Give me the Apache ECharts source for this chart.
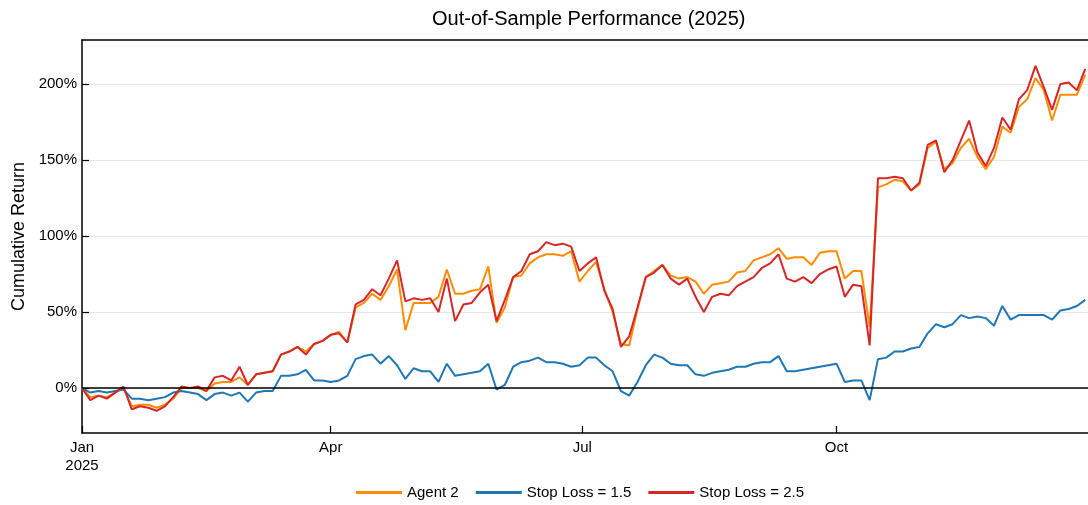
<!DOCTYPE html>
<html>
<head>
<meta charset="utf-8">
<title>Out-of-Sample Performance (2025)</title>
<script src="https://cdn.jsdelivr.net/npm/echarts@6/dist/echarts.min.js"></script>
<style>
    html, body { margin: 0; padding: 0; background: #fff; }
    #chart { width: 1088px; height: 505px; }
</style>
</head>
<body>
<div id="chart"></div>
<script>
    // sample dates (every 3 days)
    let dates = [
        '2025-01-01', '2025-01-04', '2025-01-07', '2025-01-10', '2025-01-13', '2025-01-16', '2025-01-19', '2025-01-22', '2025-01-25', '2025-01-28',
        '2025-01-31', '2025-02-03', '2025-02-06', '2025-02-09', '2025-02-12', '2025-02-15', '2025-02-18', '2025-02-21', '2025-02-24', '2025-02-27',
        '2025-03-02', '2025-03-05', '2025-03-08', '2025-03-11', '2025-03-14', '2025-03-17', '2025-03-20', '2025-03-23', '2025-03-26', '2025-03-29',
        '2025-04-01', '2025-04-04', '2025-04-07', '2025-04-10', '2025-04-13', '2025-04-16', '2025-04-19', '2025-04-22', '2025-04-25', '2025-04-28',
        '2025-05-01', '2025-05-04', '2025-05-07', '2025-05-10', '2025-05-13', '2025-05-16', '2025-05-19', '2025-05-22', '2025-05-25', '2025-05-28',
        '2025-05-31', '2025-06-03', '2025-06-06', '2025-06-09', '2025-06-12', '2025-06-15', '2025-06-18', '2025-06-21', '2025-06-24', '2025-06-27',
        '2025-06-30', '2025-07-03', '2025-07-06', '2025-07-09', '2025-07-12', '2025-07-15', '2025-07-18', '2025-07-21', '2025-07-24', '2025-07-27',
        '2025-07-30', '2025-08-02', '2025-08-05', '2025-08-08', '2025-08-11', '2025-08-14', '2025-08-17', '2025-08-20', '2025-08-23', '2025-08-26',
        '2025-08-29', '2025-09-01', '2025-09-04', '2025-09-07', '2025-09-10', '2025-09-13', '2025-09-16', '2025-09-19', '2025-09-22', '2025-09-25',
        '2025-09-28', '2025-10-01', '2025-10-04', '2025-10-07', '2025-10-10', '2025-10-13', '2025-10-16', '2025-10-19', '2025-10-22', '2025-10-25',
        '2025-10-28', '2025-10-31', '2025-11-03', '2025-11-06', '2025-11-09', '2025-11-12', '2025-11-15', '2025-11-18', '2025-11-21', '2025-11-24',
        '2025-11-27', '2025-11-30', '2025-12-03', '2025-12-06', '2025-12-09', '2025-12-12', '2025-12-15', '2025-12-18', '2025-12-21', '2025-12-24',
        '2025-12-27', '2025-12-30'
    ];

    // cumulative return, %
    let agent2 = [
        0, -6, -5, -6, -3, 0, -12, -11, -11, -13,
        -11, -7, 0, 0, 0, -2, 3, 4, 4, 7,
        2, 9, 10, 11, 22, 24, 27, 24, 29, 31,
        35, 37, 30, 53, 56, 62, 58, 67, 78, 38,
        56, 56, 56, 60, 78, 62, 62, 64, 65, 80,
        43, 53, 73, 74, 82, 86, 88, 88, 87, 90,
        70, 77, 83, 65, 50, 29, 28, 52, 73, 77,
        81, 74, 72, 73, 70, 62, 68, 69, 70, 76,
        77, 84, 86, 88, 92, 85, 86, 86, 81, 89,
        90, 90, 72, 77, 77, 40, 132, 134, 137, 136,
        130, 134, 158, 162, 144, 148, 158, 164, 152, 144,
        152, 172, 168, 185, 190, 204, 196, 176, 193, 193,
        193, 206
    ];
    let stopLoss15 = [
        0, -3, -2, -3, -2, -1, -7, -7, -8, -7,
        -6, -3, -2, -3, -4, -8, -4, -3, -5, -3,
        -9, -3, -2, -2, 8, 8, 9, 12, 5, 5,
        4, 5, 8, 19, 21, 22, 16, 21, 15, 6,
        13, 11, 11, 4, 16, 8, 9, 10, 11, 16,
        -1, 2, 14, 17, 18, 20, 17, 17, 16, 14,
        15, 20, 20, 15, 11, -2, -5, 4, 15, 22,
        20, 16, 15, 15, 9, 8, 10, 11, 12, 14,
        14, 16, 17, 17, 21, 11, 11, 12, 13, 14,
        15, 16, 4, 5, 5, -8, 19, 20, 24, 24,
        26, 27, 36, 42, 40, 42, 48, 46, 47, 46,
        41, 54, 45, 48, 48, 48, 48, 45, 51, 52,
        54, 58
    ];
    let stopLoss25 = [
        0, -8, -5, -7, -3, 1, -14, -12, -13, -15,
        -12, -6, 1, 0, 1, -2, 7, 8, 5, 14,
        2, 9, 10, 11, 22, 24, 27, 22, 29, 31,
        35, 36, 30, 55, 58, 65, 61, 72, 84, 57,
        59, 58, 59, 50, 72, 44, 55, 56, 63, 68,
        44, 58, 73, 77, 88, 90, 96, 94, 95, 93,
        77, 82, 86, 64, 52, 27, 34, 53, 73, 76,
        81, 72, 68, 72, 60, 50, 60, 62, 61, 67,
        70, 73, 79, 82, 88, 72, 70, 73, 69, 75,
        78, 80, 60, 68, 67, 28, 138, 138, 139, 138,
        130, 135, 160, 163, 142, 150, 163, 176, 155, 146,
        158, 178, 170, 190, 196, 212, 198, 183, 200, 201,
        196, 210
    ];

    let monthTicks = ['2025-01-01', '2025-04-01', '2025-07-01', '2025-10-01'];
    let monthLabels = ['Jan\n2025', 'Apr', 'Jul', 'Oct'];
    let yTicks = [0, 50, 100, 150, 200];

    let font = 'Liberation Sans, Arial, sans-serif';
    let DAY = 86400000;
    let startTime = Date.UTC(2025, 0, 1);

    // date string -> day of year (0 = Jan 1)
    function toDay(s) {
        let p = s.split('-');
        return Math.round((Date.UTC(+p[0], +p[1] - 1, +p[2]) - startTime) / DAY);
    }

    function toPairs(values) {
        return dates.map(function (d, i) {
            return [toDay(d), values[i]];
        });
    }

    let tickDays = monthTicks.map(toDay);
    let xMin = toDay('2025-01-01');
    let xMax = toDay('2025-12-31');

    let chart = echarts.init(document.getElementById('chart'), null, {renderer: 'canvas'});

    function lineSeries(name, values, color) {
        return {
            name: name,
            type: 'line',
            data: toPairs(values),
            showSymbol: false,
            symbol: 'none',
            lineStyle: {color: color, width: 2},
            itemStyle: {color: color},
            emphasis: {disabled: true}
        };
    }

    let series = [
        lineSeries('Agent 2', agent2, '#ff8c00'),
        lineSeries('Stop Loss = 1.5', stopLoss15, '#1f77b4'),
        lineSeries('Stop Loss = 2.5', stopLoss25, '#d62728')
    ];
    // zero line
    series[0].markLine = {
        silent: true,
        symbol: ['none', 'none'],
        label: {show: false},
        lineStyle: {color: '#000', width: 1.5, type: 'solid'},
        data: [{yAxis: 0}]
    };

    let option = {
        animation: false,
        title: {
            text: 'Out-of-Sample Performance (2025)',
            left: 427,
            top: 4,
            textStyle: {fontFamily: font, fontSize: 20, fontWeight: 'normal', color: '#000'}
        },
        legend: {
            left: 351,
            top: 480,
            icon: 'rect',
            itemWidth: 46,
            itemHeight: 3,
            itemGap: 17,
            textStyle: {fontFamily: font, fontSize: 15, color: '#000'},
            data: ['Agent 2', 'Stop Loss = 1.5', 'Stop Loss = 2.5']
        },
        grid: {left: 82, right: 0, top: 40, bottom: 72},
        xAxis: [
            {
                type: 'value',
                min: xMin,
                max: xMax,
                axisLine: {onZero: false, lineStyle: {color: '#000', width: 1.5}},
                axisTick: {inside: true, length: 7, customValues: tickDays, lineStyle: {color: '#000', width: 1.2}},
                axisLabel: {
                    customValues: tickDays,
                    margin: 6,
                    lineHeight: 18,
                    fontFamily: font,
                    fontSize: 15,
                    color: '#000',
                    formatter: function (value) {
                        let i = tickDays.indexOf(value);
                        return i >= 0 ? monthLabels[i] : '';
                    }
                },
                splitLine: {show: false}
            },
            {
                type: 'value',
                position: 'top',
                min: xMin,
                max: xMax,
                axisLine: {show: true, onZero: false, lineStyle: {color: '#000', width: 1.5}},
                axisTick: {show: false},
                axisLabel: {show: false},
                splitLine: {show: false}
            }
        ],
        yAxis: {
            type: 'value',
            min: -29.6,
            max: 229,
            name: 'Cumulative Return',
            nameLocation: 'middle',
            nameGap: 54,
            nameTextStyle: {fontFamily: font, fontSize: 18, color: '#000'},
            axisLine: {show: true, onZero: false, lineStyle: {color: '#000', width: 1.5}},
            axisTick: {show: true, inside: true, length: 7, customValues: yTicks, lineStyle: {color: '#000', width: 1.2}},
            axisLabel: {
                customValues: yTicks,
                margin: 5,
                fontFamily: font,
                fontSize: 15,
                color: '#000',
                formatter: function (v) {
                    return v + '%';
                }
            },
            splitLine: {show: true, lineStyle: {color: '#e6e6e6', width: 1}}
        },
        series: series
    };

    chart.setOption(option);
</script>
</body>
</html>
